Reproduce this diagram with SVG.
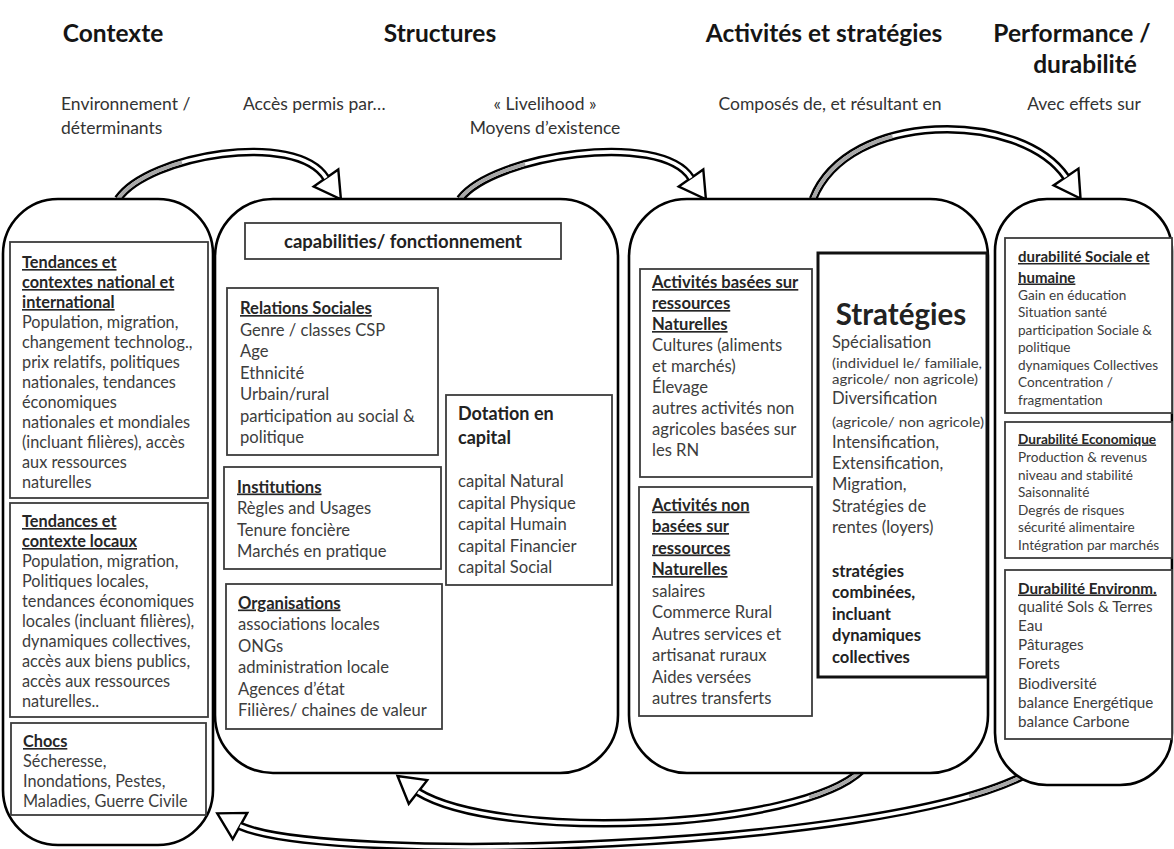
<svg xmlns="http://www.w3.org/2000/svg" width="1174" height="849" viewBox="0 0 1174 849">
<style>
.big{fill:#fff;stroke:#000;stroke-width:2.6}
.box{fill:#fff;stroke:#3c3c3c;stroke-width:1.8}
.sbox{fill:#fff;stroke:#111;stroke-width:3}
text{font-family:Lato,"Liberation Sans",sans-serif;fill:#3d3d3d}
.hd{font-weight:bold;fill:#151515;font-size:24.5px;text-anchor:middle}
.sub{fill:#333;font-size:17.5px}
.u{font-weight:bold;text-decoration:underline;fill:#262626}
.b{font-weight:bold;fill:#222}
.f163{font-size:16.3px}
.f166{font-size:16.6px}
.f136{font-size:13.6px}
.f15{font-size:15.2px}
.sm{font-size:13.6px}
.outer{fill:none;stroke:#000;stroke-width:8.5;stroke-linecap:butt}
.inner{fill:none;stroke:#fff;stroke-width:3.6}
.grey{fill:none;stroke:#a8a8a8;stroke-width:3.6}
.head{fill:#fff;stroke:#000;stroke-width:2.4;stroke-linejoin:miter}
</style>

<g id="headers">
<text class="hd" x="113" y="42">Contexte</text>
<text class="hd" x="440" y="42">Structures</text>
<text class="hd" x="824" y="42">Activités et stratégies</text>
<text class="hd" x="1072" y="42">Performance /</text>
<text class="hd" x="1085" y="73">durabilité</text>
<text class="sub" x="61" y="110">Environnement /</text>
<text class="sub" x="61" y="134">déterminants</text>
<text class="sub" x="243" y="110">Accès permis par…</text>
<text class="sub" x="545" y="110" text-anchor="middle">« Livelihood »</text>
<text class="sub" x="545" y="134" text-anchor="middle">Moyens d’existence</text>
<text class="sub" x="830" y="110" text-anchor="middle">Composés de, et résultant en</text>
<text class="sub" x="1084" y="110" text-anchor="middle">Avec effets sur</text>
</g>

<g id="connectors">
<path class="outer" d="M118 199 C148 155 296 130 326 178"/>
<polygon class="head" transform="translate(326,178) rotate(55)" points="0,-4.5 0,-15 26,0 0,15 0,4.5"/>
<path class="inner" d="M118 199 C148 155 296 130 326 178"/>
<path class="grey" d="M118 199 C148 155 296 130 326 178" stroke-dasharray="75 1000"/>
<path class="outer" d="M460 199 C493 155 661 130 691 178"/>
<polygon class="head" transform="translate(691,178) rotate(55)" points="0,-4.5 0,-15 26,0 0,15 0,4.5"/>
<path class="inner" d="M460 199 C493 155 661 130 691 178"/>
<path class="grey" d="M460 199 C493 155 661 130 691 178" stroke-dasharray="75 1000"/>
<path class="outer" d="M813 199 C848 110 1020 110 1066 177"/>
<polygon class="head" transform="translate(1066,177) rotate(56)" points="0,-4.5 0,-15 26,0 0,15 0,4.5"/>
<path class="inner" d="M813 199 C848 110 1020 110 1066 177"/>
<path class="grey" d="M813 199 C848 110 1020 110 1066 177" stroke-dasharray="105 1000"/>
<path class="outer" d="M862 770 C800 830 500 842 418 792"/>
<polygon class="head" transform="translate(418,792) rotate(218)" points="0,-4.5 0,-15 26,0 0,15 0,4.5"/>
<path class="inner" d="M862 770 C800 830 500 842 418 792"/>
<path class="grey" d="M862 770 C800 830 500 842 418 792" stroke-dasharray="60 2000"/>
<path class="outer" d="M1025 775 C880 850 330 865 240 826"/>
<polygon class="head" transform="translate(240,826) rotate(209)" points="0,-4.5 0,-15 26,0 0,15 0,4.5"/>
<path class="inner" d="M1025 775 C880 850 330 865 240 826"/>
<path class="grey" d="M1025 775 C880 850 330 865 240 826" stroke-dasharray="60 2000"/>
</g>

<g id="contexte">
<rect class="big" x="3" y="199" width="210" height="646" rx="55"/>
<rect class="box" x="10" y="242" width="198" height="256"/>
<text class="f163"><tspan class="u" x="22" y="268">Tendances et</tspan><tspan class="u" x="22" y="288">contextes national et</tspan><tspan class="u" x="22" y="308">international</tspan><tspan x="22" y="328">Population, migration,</tspan><tspan x="22" y="348">changement technolog.,</tspan><tspan x="22" y="368">prix relatifs, politiques</tspan><tspan x="22" y="388">nationales, tendances</tspan><tspan x="22" y="408">économiques</tspan><tspan x="22" y="428">nationales et mondiales</tspan><tspan x="22" y="448">(incluant filières), accès</tspan><tspan x="22" y="468">aux ressources</tspan><tspan x="22" y="488">naturelles</tspan></text>
<rect class="box" x="10" y="503" width="198" height="214"/>
<text class="f163"><tspan class="u" x="22" y="527">Tendances et</tspan><tspan class="u" x="22" y="547">contexte locaux</tspan><tspan x="22" y="567">Population, migration,</tspan><tspan x="22" y="587">Politiques locales,</tspan><tspan x="22" y="607">tendances économiques</tspan><tspan x="22" y="627">locales (incluant filières),</tspan><tspan x="22" y="647">dynamiques collectives,</tspan><tspan x="22" y="667">accès aux biens publics,</tspan><tspan x="22" y="687">accès aux ressources</tspan><tspan x="22" y="707">naturelles..</tspan></text>
<rect class="box" x="11" y="723" width="195" height="92"/>
<text class="f163"><tspan class="u" x="23" y="747">Chocs</tspan><tspan x="23" y="767">Sécheresse,</tspan><tspan x="23" y="787">Inondations, Pestes,</tspan><tspan x="23" y="807">Maladies, Guerre Civile</tspan></text>
</g>

<g id="structures">
<rect class="big" x="215" y="199" width="403" height="574" rx="58"/>
<rect class="box" x="245" y="223" width="316" height="36"/>
<text class="b" x="403" y="248" text-anchor="middle" font-size="18.5">capabilities/ fonctionnement</text>
<rect class="box" x="227" y="288" width="211" height="167"/>
<text class="f166"><tspan class="u" x="240" y="314">Relations Sociales</tspan><tspan x="240" y="335.5">Genre / classes CSP</tspan><tspan x="240" y="357">Age</tspan><tspan x="240" y="378.5">Ethnicité</tspan><tspan x="240" y="400">Urbain/rural</tspan><tspan x="240" y="421.5">participation au social &amp;</tspan><tspan x="240" y="443">politique</tspan></text>
<rect class="box" x="446" y="395" width="166" height="190"/>
<text class="b" font-size="18"><tspan x="458" y="420">Dotation en</tspan><tspan x="458" y="444">capital</tspan></text>
<text class="f166"><tspan x="458" y="487">capital Natural</tspan><tspan x="458" y="508.5">capital Physique</tspan><tspan x="458" y="530">capital Humain</tspan><tspan x="458" y="551.5">capital Financier</tspan><tspan x="458" y="573">capital Social</tspan></text>
<rect class="box" x="224" y="467" width="217" height="102"/>
<text class="f166"><tspan class="u" x="237" y="492.5">Institutions</tspan><tspan x="237" y="514">Règles and Usages</tspan><tspan x="237" y="535.5">Tenure foncière</tspan><tspan x="237" y="557">Marchés en pratique</tspan></text>
<rect class="box" x="226" y="584" width="216" height="145"/>
<text class="f166"><tspan class="u" x="238" y="608.5">Organisations</tspan><tspan x="238" y="630">associations locales</tspan><tspan x="238" y="651.5">ONGs</tspan><tspan x="238" y="673">administration locale</tspan><tspan x="238" y="694.5">Agences d’état</tspan><tspan x="238" y="716">Filières/ chaines de valeur</tspan></text>
</g>

<g id="activites">
<rect class="big" x="629" y="199" width="359" height="574" rx="58"/>
<rect class="box" x="640" y="269" width="172" height="208"/>
<text class="f166"><tspan class="u" x="652" y="288">Activités basées sur</tspan><tspan class="u" x="652" y="309">ressources</tspan><tspan class="u" x="652" y="330">Naturelles</tspan><tspan x="652" y="351">Cultures (aliments</tspan><tspan x="652" y="372">et marchés)</tspan><tspan x="652" y="393">Élevage</tspan><tspan x="652" y="414">autres activités non</tspan><tspan x="652" y="435">agricoles basées sur</tspan><tspan x="652" y="456">les RN</tspan></text>
<rect class="box" x="639" y="487" width="173" height="229"/>
<text class="f166"><tspan class="u" x="652" y="510.5">Activités non</tspan><tspan class="u" x="652" y="532">basées sur</tspan><tspan class="u" x="652" y="553.5">ressources</tspan><tspan class="u" x="652" y="575">Naturelles</tspan><tspan x="652" y="596.5">salaires</tspan><tspan x="652" y="618">Commerce Rural</tspan><tspan x="652" y="639.5">Autres services et</tspan><tspan x="652" y="661">artisanat ruraux</tspan><tspan x="652" y="682.5">Aides versées</tspan><tspan x="652" y="704">autres transferts</tspan></text>
<rect class="sbox" x="818" y="253" width="169" height="424"/>
<text class="b" x="901" y="325" text-anchor="middle" font-size="29.5" fill="#1a1a1a">Stratégies</text>
<text class="f166"><tspan x="832" y="348">Spécialisation</tspan><tspan x="832" y="404">Diversification</tspan><tspan x="832" y="447.5">Intensification,</tspan><tspan x="832" y="468.5">Extensification,</tspan><tspan x="832" y="489.5">Migration,</tspan><tspan x="832" y="511.5">Stratégies de</tspan><tspan x="832" y="533">rentes (loyers)</tspan></text>
<text class="sm" x="832" y="367.5" textLength="150" lengthAdjust="spacingAndGlyphs">(individuel le/ familiale,</text>
<text class="sm" x="832" y="383.5" textLength="146" lengthAdjust="spacingAndGlyphs">agricole/ non agricole)</text>
<text class="sm" x="832" y="426.5" textLength="152" lengthAdjust="spacingAndGlyphs">(agricole/ non agricole)</text>
<text class="b f166"><tspan x="832" y="576.5">stratégies</tspan><tspan x="832" y="598">combinées,</tspan><tspan x="832" y="619.5">incluant</tspan><tspan x="832" y="641">dynamiques</tspan><tspan x="832" y="662.5">collectives</tspan></text>
</g>

<g id="performance">
<rect class="big" x="995" y="199" width="177" height="586" rx="52"/>
<rect class="box" x="1005" y="238" width="167" height="175"/>
<text class="f136"><tspan class="u" x="1018" y="262" font-size="15">durabilité Sociale et</tspan><tspan class="u" x="1018" y="282.5" font-size="15">humaine</tspan><tspan x="1018" y="299.5">Gain en éducation</tspan><tspan x="1018" y="317">Situation santé</tspan><tspan x="1018" y="334.5">participation Sociale &amp;</tspan><tspan x="1018" y="352">politique</tspan><tspan x="1018" y="369.5">dynamiques Collectives</tspan><tspan x="1018" y="387">Concentration /</tspan><tspan x="1018" y="404.5">fragmentation</tspan></text>
<rect class="box" x="1005" y="422" width="167" height="136"/>
<text class="f136"><tspan class="u" x="1018" y="443.5">Durabilité Economique</tspan><tspan x="1018" y="462">Production &amp; revenus</tspan><tspan x="1018" y="479.5">niveau and stabilité</tspan><tspan x="1018" y="497">Saisonnalité</tspan><tspan x="1018" y="514.5">Degrés de risques</tspan><tspan x="1018" y="532">sécurité alimentaire</tspan><tspan x="1018" y="549.5">Intégration par marchés</tspan></text>
<rect class="box" x="1005" y="570" width="167" height="169"/>
<text class="f15"><tspan class="u" x="1018" y="593.5">Durabilité Environm.</tspan><tspan x="1018" y="611.5">qualité Sols &amp; Terres</tspan><tspan x="1018" y="630.8">Eau</tspan><tspan x="1018" y="650.1">Pâturages</tspan><tspan x="1018" y="669.4">Forets</tspan><tspan x="1018" y="688.7">Biodiversité</tspan><tspan x="1018" y="708">balance Energétique</tspan><tspan x="1018" y="727.3">balance Carbone</tspan></text>
</g>
</svg>
